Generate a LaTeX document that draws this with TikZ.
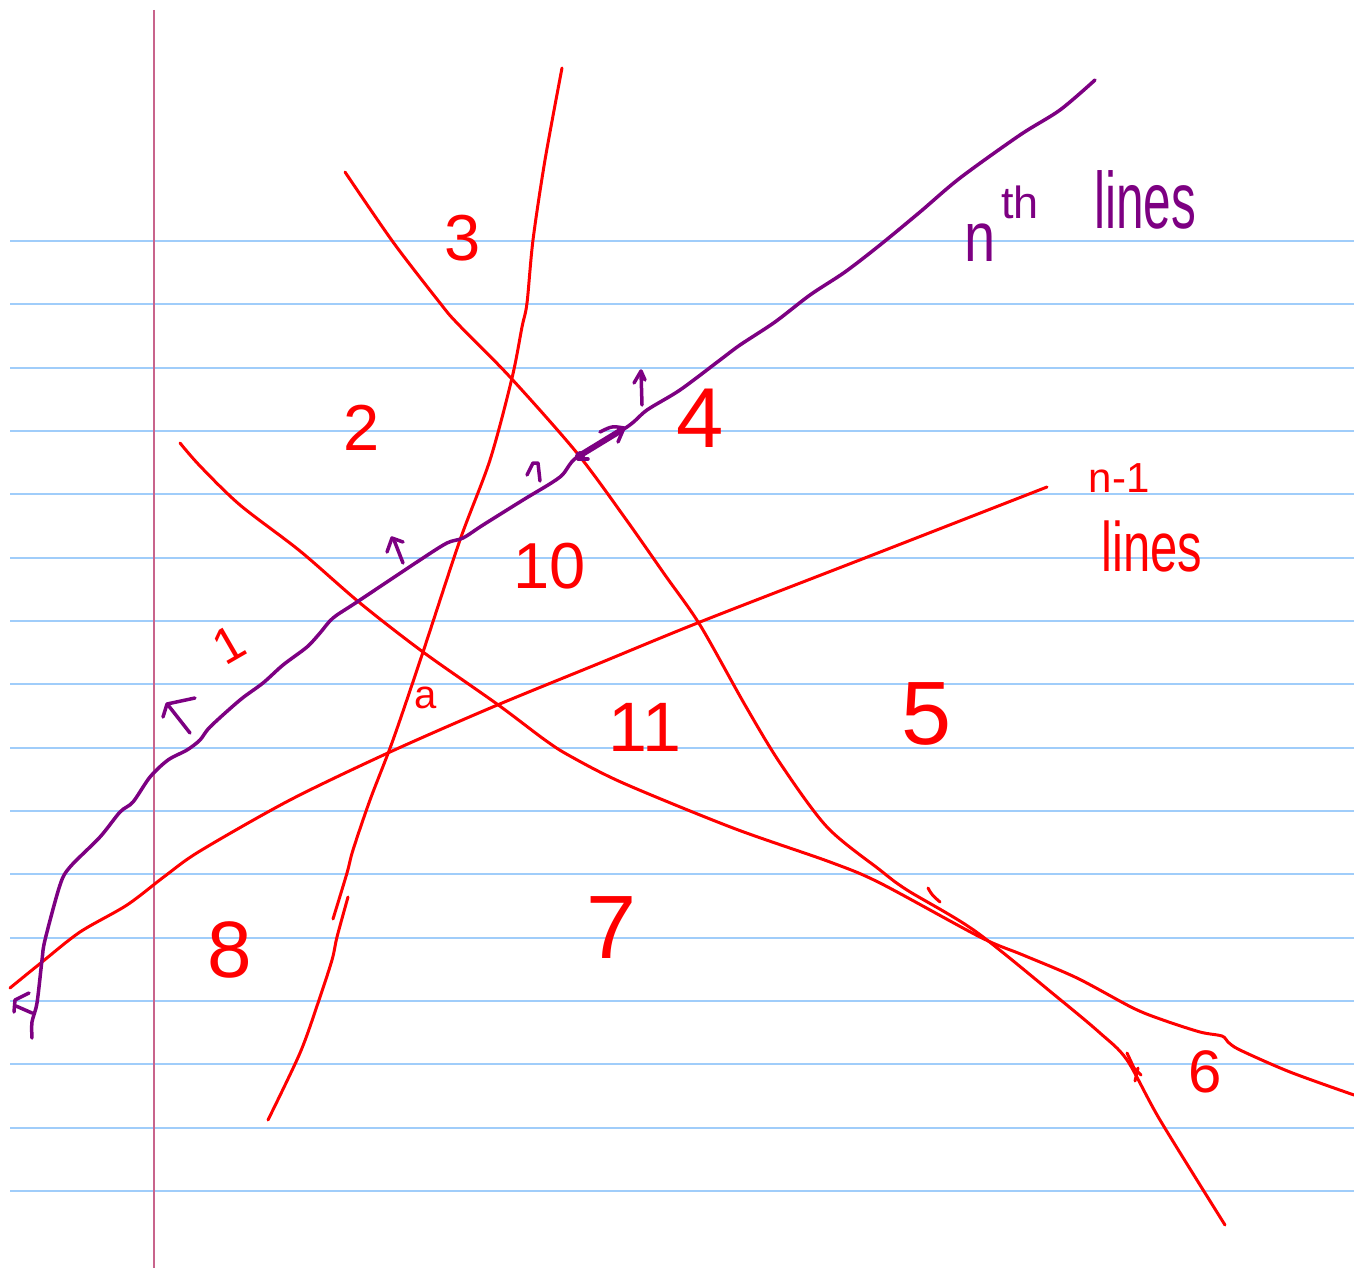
\documentclass[tikz,border=0pt]{standalone}
\usepackage{fontspec}
\setmainfont{Liberation Sans}
\definecolor{inkred}{RGB}{255,0,0}
\definecolor{inkpurple}{RGB}{125,0,130}
\definecolor{paperrule}{RGB}{160,205,250}
\definecolor{paperedge}{RGB}{200,100,140}
\newcommand\hwsize[1]{\fontsize{#1}{#1}\selectfont}
\begin{document}
\begin{tikzpicture}[x=1pt,y=-1pt,
  redink/.style={draw=inkred,line width=3pt,line cap=round,line join=round},
  purpleink/.style={draw=inkpurple,line width=3.5pt,line cap=round,line join=round},
  redlabel/.style={text=inkred,inner sep=0pt},
  purplelabel/.style={text=inkpurple,inner sep=0pt},
  ruleline/.style={draw=paperrule,line width=2pt},
  marginline/.style={draw=paperedge,line width=2pt}]
\fill[white] (0,0) rectangle (1354,1268);
\useasboundingbox (0,0) rectangle (1354,1268);
% paper
\foreach \k in {0,...,15} \draw[ruleline] (10,{241+63.33*\k}) -- (1354,{241+63.33*\k});
\draw[marginline] (154,10) -- (154,1268);
% red lines
\draw[redink] plot[smooth,tension=0.5] coordinates {(10,988) (42,962) (80,932) (127,905) (165,876) (200,851) (290,800) (390,752) (495,706) (600,663) (700,622) (870,556) (1047,487)};
\draw[redink] plot[smooth,tension=0.5] coordinates {(180,443) (200,466) (240,505) (300,551) (360,603) (423,652) (497,704) (545,740) (570,756) (623,783) (733,828) (830,862) (880,883) (980,937) (1023,955) (1077,978) (1133,1008) (1163,1020) (1200,1032) (1222,1036) (1228,1042) (1240,1050) (1290,1072) (1354,1095)};
\draw[redink] plot[smooth,tension=0.5] coordinates {(345,172) (393,242) (440,303) (457,323) (510,377) (577,453) (625,518) (665,575) (700,625) (745,705) (780,763) (827,827) (880,870) (907,890) (975,931) (1057,997) (1100,1033) (1127,1060) (1160,1120) (1225,1225)};
\draw[redink] plot[smooth,tension=0.5] coordinates {(562,68) (545,160) (533,240) (527,303) (522,327) (512,378) (490,460) (460,540) (423,652) (393,740) (370,800) (353,850) (347,873) (333,919)};
\draw[redink] plot[smooth,tension=0.5] coordinates {(348,897) (337,937) (332,960) (318,1003) (300,1053) (268,1120)};
% red arrow marks
\draw[redink] (928,888) .. controls (932,895) .. (940,902);
\draw[redink] (1127,1053) -- (1134,1068) -- (1141,1075);
\draw[redink] (1135,1081) -- (1138,1068);
% purple line
\draw[purpleink] plot[smooth,tension=0.5] coordinates {(32,1038) (32,1022) (37,1003) (42,960) (45,940) (60,885) (70,867) (100,837) (120,812) (133,802) (150,777) (168,760) (187,750) (200,740) (210,727) (240,700) (263,683) (283,665) (307,647) (320,633) (333,618) (357,602) (420,560) (447,543) (463,538) (483,525) (523,500) (560,477) (577,457) (627,427) (647,410) (680,390) (720,360) (740,345) (775,322) (810,295) (845,272) (880,245) (920,212) (960,178) (1020,135) (1060,110) (1095,80)};
\draw[purpleink,line width=6pt] (579,456) -- (620,431);
\draw[purpleink] (600,432) .. controls (612,426) .. (624,428) -- (618,442);
\fill[inkpurple] (580,456) circle (5);
\draw[purpleink] (588,459) -- (578,459);
% purple small arrows
\draw[purpleink] (642,405) -- (641,372);
\draw[purpleink] (634,383) -- (641,371) -- (645,380);
\draw[purpleink] (527,475) -- (533,463) -- (538,463) -- (540,481);
\draw[purpleink] (387,552) -- (392,538) -- (403,542);
\draw[purpleink] (394,540) -- (403,563);
\draw[purpleink] (163,717) -- (167,704) -- (195,698);
\draw[purpleink] (168,705) -- (190,733);
\draw[purpleink] (29,993) -- (15,1000) -- (14,1012);
\draw[purpleink] (16,1006) -- (32,1013);
% region labels
\node[redlabel,rotate=30] (r1) at (229,645) {\hwsize{50}1};
\node[redlabel] (r2) at (362,428) {\hwsize{65}2};
\node[redlabel] (r3) at (463,238) {\hwsize{65}3};
\node[redlabel] (r4) at (700,418) {\hwsize{85}4};
\node[redlabel] (r5) at (927,714) {\hwsize{90}5};
\node[redlabel] (r6) at (1205,1072) {\hwsize{60}6};
\node[redlabel] (r7) at (612,928) {\hwsize{90}7};
\node[redlabel] (r8) at (230,950) {\hwsize{80}8};
\node[redlabel] (r10) at (550,566) {\hwsize{65}10};
\node[redlabel] (r11) at (645,727) {\hwsize{70}11};
\node[redlabel] (ra) at (426,698) {\hwsize{40}a};
% line captions
\node[purplelabel,xscale=0.8] (nthn) at (980,243) {\hwsize{70}n};
\node[purplelabel] (nthth) at (1020,202) {\hwsize{45}th};
\node[purplelabel,xscale=0.62] (nthlines) at (1145,200) {\hwsize{80}lines};
\node[redlabel] (nm1) at (1119,478) {\hwsize{42}n-1};
\node[redlabel,xscale=0.7] (nm1lines) at (1152,546) {\hwsize{70}lines};
\end{tikzpicture}
\end{document}
